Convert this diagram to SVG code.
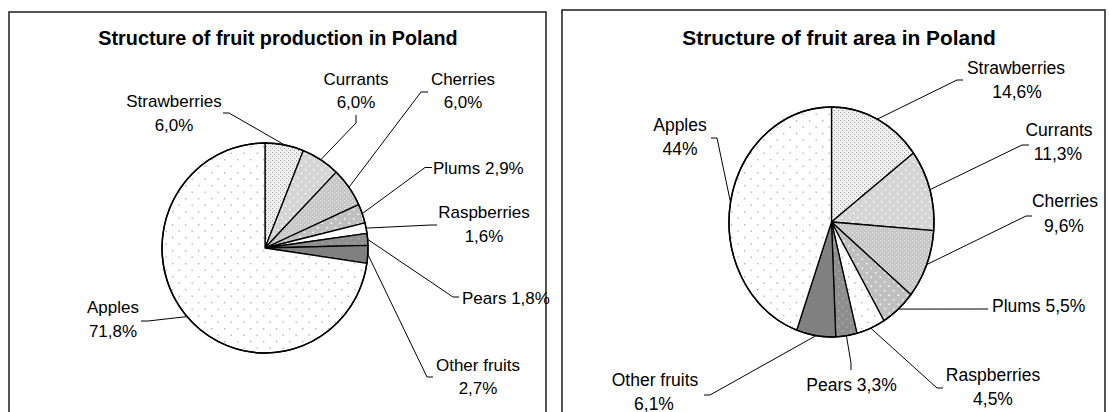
<svg xmlns="http://www.w3.org/2000/svg" width="1109" height="412" viewBox="0 0 1109 412">
<style>
.panel{fill:#fff;stroke:#2a2a2a;stroke-width:1.6}
.slice{stroke:#000;stroke-width:1.3;stroke-linejoin:round}
.rim{fill:none;stroke:#000;stroke-width:1.5}
.lead{fill:none;stroke:#000;stroke-width:1}
text{font-family:"Liberation Sans",Arial,sans-serif;font-size:17px;fill:#000}
.r text{font-size:17.5px}
.ttl{font-weight:bold;font-size:19.8px}
.ttl2{font-weight:bold;font-size:20.9px}
.m{text-anchor:middle}
</style>
<defs>
<pattern id="pApple" width="13" height="13" patternUnits="userSpaceOnUse"><rect width="13" height="13" fill="#fff"/><rect x="3" y="3" width="1.4" height="1.4" fill="#b4b4b4"/><rect x="9.5" y="9.5" width="1.4" height="1.4" fill="#b4b4b4"/></pattern>
<pattern id="pStraw" width="4" height="4" patternUnits="userSpaceOnUse"><rect width="4" height="4" fill="#f0f0f0"/><rect x="0" y="0" width="1" height="1" fill="#a0a0a0"/><rect x="2" y="2" width="1" height="1" fill="#a0a0a0"/></pattern>
<pattern id="pCurr" width="8" height="8" patternUnits="userSpaceOnUse"><rect width="8" height="8" fill="#d6d6d6"/><rect x="3" y="1" width="1" height="1" fill="#c2c2c2"/><rect x="1" y="3" width="1" height="1" fill="#c2c2c2"/><rect x="7" y="5" width="1" height="1" fill="#c2c2c2"/><rect x="5" y="7" width="1" height="1" fill="#c2c2c2"/><rect x="1" y="1" width="1.5" height="1.5" fill="#fff"/><rect x="5" y="5" width="1.5" height="1.5" fill="#fff"/></pattern>
<pattern id="pCherry" width="4" height="4" patternUnits="userSpaceOnUse"><rect width="4" height="4" fill="#c6c6c6"/><rect x="0" y="0" width="1" height="1" fill="#ececec"/><rect x="2" y="2" width="1" height="1" fill="#ececec"/></pattern>
<pattern id="pPlum" width="9" height="9" patternUnits="userSpaceOnUse"><rect width="9" height="9" fill="#c0c0c0"/><rect x="2" y="2" width="1.5" height="1.5" fill="#fff"/><rect x="6.5" y="6.5" width="1.5" height="1.5" fill="#fff"/></pattern>
<pattern id="pPear" width="8" height="8" patternUnits="userSpaceOnUse"><rect width="8" height="8" fill="#8e8e8e"/><rect x="2" y="2" width="1.4" height="1.4" fill="#b4b4b4"/><rect x="6" y="6" width="1.4" height="1.4" fill="#b4b4b4"/></pattern>
</defs>

<g id="panel-production">
<rect class="panel" x="9" y="12" width="537" height="420"/>
<text class="ttl m" x="278" y="44.5">Structure of fruit production in Poland</text>
</g>
<g id="panel-area">
<rect class="panel" x="562" y="10" width="543" height="420"/>
<text class="ttl2 m" x="839" y="44.5">Structure of fruit area in Poland</text>
</g>

<g id="prod-strawberries"><path class="slice" fill="url(#pStraw)" d="M265,248 L265,143 A103,105 0 0 1 303.36,150.55 Z"/><text class="m" x="174" y="107">Strawberries</text><text class="m" x="174" y="130.5">6,0%</text></g>
<g id="prod-currants"><path class="slice" fill="url(#pCurr)" d="M265,248 L303.36,150.55 A103,105 0 0 1 336.19,172.12 Z"/><text class="m" x="356" y="85">Currants</text><text class="m" x="356" y="108">6,0%</text></g>
<g id="prod-cherries"><path class="slice" fill="url(#pCherry)" d="M265,248 L336.19,172.12 A103,105 0 0 1 358.58,204.6 Z"/><text class="m" x="463" y="85">Cherries</text><text class="m" x="463" y="108">6,0%</text></g>
<g id="prod-plums"><path class="slice" fill="url(#pPlum)" d="M265,248 L358.58,204.6 A103,105 0 0 1 365.01,222.87 Z"/><text x="433" y="174">Plums 2,9%</text></g>
<g id="prod-raspberries"><path class="slice" fill="#fff" d="M265,248 L365.01,222.87 A103,105 0 0 1 367,233.36 Z"/><text class="m" x="484" y="218">Raspberries</text><text class="m" x="484" y="242">1,6%</text></g>
<g id="prod-pears"><path class="slice" fill="url(#pPear)" d="M265,248 L367,233.36 A103,105 0 0 1 367.97,245.33 Z"/><text x="462" y="304">Pears 1,8%</text></g>
<g id="prod-other"><path class="slice" fill="#808080" d="M265,248 L367.97,245.33 A103,105 0 0 1 366.9,263.31 Z"/><text class="m" x="478" y="371">Other fruits</text><text class="m" x="478" y="394">2,7%</text></g>
<g id="prod-apples"><path class="slice" fill="url(#pApple)" d="M265,248 L366.9,263.31 A103,105 0 1 1 265,143 Z"/><text class="m" x="113" y="313">Apples</text><text class="m" x="113" y="337">71,8%</text></g>
<ellipse class="rim" cx="265" cy="248" rx="103" ry="105"/>

<g class="r">
<g id="area-strawberries"><path class="slice" fill="url(#pStraw)" d="M831.5,222 L831.5,107 A102.5,115 0 0 1 913.52,153.02 Z"/><text class="m" x="1016" y="74">Strawberries</text><text class="m" x="1017" y="98">14,6%</text></g>
<g id="area-currants"><path class="slice" fill="url(#pCurr)" d="M831.5,222 L913.52,153.02 A102.5,115 0 0 1 933.71,230.58 Z"/><text class="m" x="1059" y="136">Currants</text><text class="m" x="1058" y="160">11,3%</text></g>
<g id="area-cherries"><path class="slice" fill="url(#pCherry)" d="M831.5,222 L933.71,230.58 A102.5,115 0 0 1 910.91,294.72 Z"/><text class="m" x="1065" y="207">Cherries</text><text class="m" x="1064" y="232">9,6%</text></g>
<g id="area-plums"><path class="slice" fill="url(#pPlum)" d="M831.5,222 L910.91,294.72 A102.5,115 0 0 1 883.92,320.82 Z"/><text x="992" y="312">Plums 5,5%</text></g>
<g id="area-raspberries"><path class="slice" fill="url(#pApple)" d="M831.5,222 L883.92,320.82 A102.5,115 0 0 1 856.95,333.4 Z"/><text class="m" x="993" y="381">Raspberries</text><text class="m" x="993" y="405">4,5%</text></g>
<g id="area-pears"><path class="slice" fill="url(#pPear)" d="M831.5,222 L856.95,333.4 A102.5,115 0 0 1 835.73,336.9 Z"/><text class="m" x="851.5" y="391">Pears 3,3%</text></g>
<g id="area-other"><path class="slice" fill="#808080" d="M831.5,222 L835.73,336.9 A102.5,115 0 0 1 796.72,330.18 Z"/><text class="m" x="655" y="386">Other fruits</text><text class="m" x="654" y="410">6,1%</text></g>
<g id="area-apples"><path class="slice" fill="url(#pApple)" d="M831.5,222 L796.72,330.18 A102.5,115 0 0 1 831.5,107 Z"/><text class="m" x="680" y="131">Apples</text><text class="m" x="680" y="155">44%</text></g>
</g>
<ellipse class="rim" cx="831.5" cy="222" rx="102.5" ry="115"/>

<g id="connectors">
<path class="lead" d="M223,113 H229 L284.5,144.9"/>
<path class="lead" d="M356,115 V123 L320.8,159.7"/>
<path class="lead" d="M428,92 H421 L349,187.2"/>
<path class="lead" d="M432,167.5 H425 L362.3,213.6"/>
<path class="lead" d="M437,225 H431 L366.1,228.1"/>
<path class="lead" d="M459,297 H453 L367.6,239.3"/>
<path class="lead" d="M433,377 H427 L367.8,254.3"/>
<path class="lead" d="M141,321 H148 L187,316.6"/>
<path class="lead" d="M963,80 H957 L877.35,119.15"/>
<path class="lead" d="M711,138 H717 L730.5,202.2"/>
<path class="lead" d="M1029,145 H1022 L929.9,189.75"/>
<path class="lead" d="M1032,216 H1026 L926.7,264.6"/>
<path class="lead" d="M988,309 L898.4,309.1"/>
<path class="lead" d="M943,388 H937 L870.8,328.2"/>
<path class="lead" d="M851,370 V363 L846.4,335.8"/>
<path class="lead" d="M704,395 H710 L815.9,335.7"/>
</g>
</svg>
